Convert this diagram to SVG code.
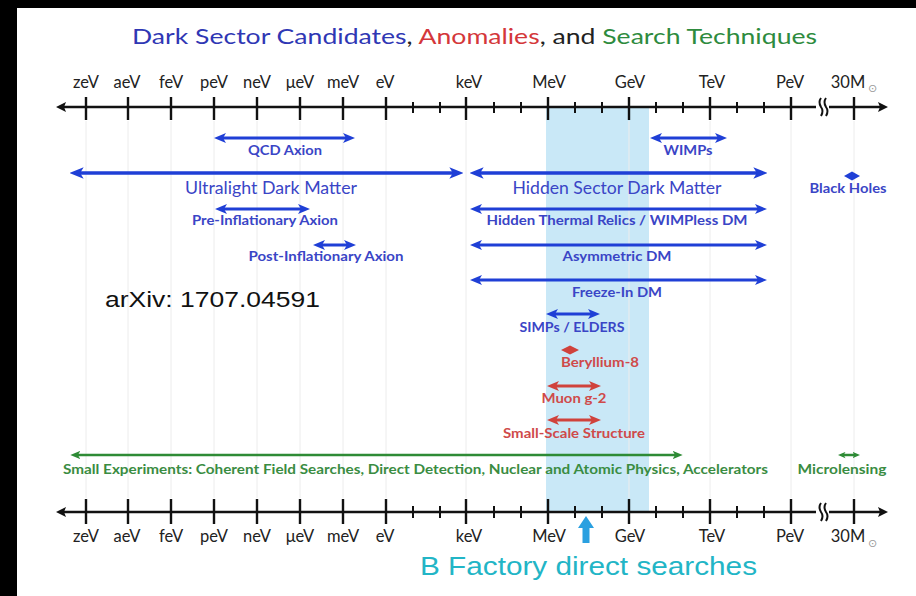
<svg xmlns="http://www.w3.org/2000/svg" width="916" height="596" viewBox="0 0 916 596">
  <defs>
    <style>
      .ax { stroke: #111; stroke-width: 2.5; fill: none; }
      .tk { stroke: #111; stroke-width: 2.4; }
      .tm { stroke: #111; stroke-width: 2; }
      .grid { stroke: #ececec; stroke-width: 1; }
      .axl { font-family: Lato, "Liberation Sans", sans-serif; font-size: 16.5px; fill: #222; text-anchor: middle; }
      .sun { font-family: "DejaVu Sans", sans-serif; font-size: 11px; fill: #999; }
      .lb { font-family: Lato, "Liberation Sans", sans-serif; font-size: 13.5px; font-weight: 700; text-anchor: middle; }
      .lbig { font-family: Lato, "Liberation Sans", sans-serif; font-size: 16.5px; text-anchor: middle; }
      .blue { fill: #3a45c6; }
      .red { fill: #cf4a4a; }
      .green { fill: #3a8c42; }
      .ab { stroke: #1f3fd6; fill: none; marker-start: url(#hb); marker-end: url(#hb); }
      .ar { stroke: #d0423c; fill: none; stroke-width: 3; marker-start: url(#hr); marker-end: url(#hr); }
      .ag { stroke: #2e8b35; fill: none; stroke-width: 2.5; marker-start: url(#hg); marker-end: url(#hg); }
    </style>
    <marker id="hb" viewBox="0 0 12 10" refX="4" refY="5" markerWidth="4" markerHeight="3.4" orient="auto-start-reverse">
      <path d="M0,0 L12,5 L0,10 L3,5 z" fill="#1f3fd6"/>
    </marker>
    <marker id="hr" viewBox="0 0 12 10" refX="4" refY="5" markerWidth="4" markerHeight="3.4" orient="auto-start-reverse">
      <path d="M0,0 L12,5 L0,10 L3,5 z" fill="#d0423c"/>
    </marker>
    <marker id="hg" viewBox="0 0 12 10" refX="4" refY="5" markerWidth="4" markerHeight="3.4" orient="auto-start-reverse">
      <path d="M0,0 L12,5 L0,10 L3,5 z" fill="#2e8b35"/>
    </marker>
    <marker id="hgs" viewBox="0 0 12 10" refX="4" refY="5" markerWidth="3" markerHeight="2.8" orient="auto-start-reverse">
      <path d="M0,0 L12,5 L0,10 L3,5 z" fill="#2e8b35"/>
    </marker>
    <marker id="hk" viewBox="0 0 10 10" refX="3" refY="5" markerWidth="4" markerHeight="4" orient="auto-start-reverse">
      <path d="M0,0 L10,5 L0,10 L2,5 z" fill="#111"/>
    </marker>
  </defs>

  <!-- frame -->
  <rect x="0" y="0" width="916" height="596" fill="#000"/>
  <rect x="17" y="8" width="899" height="588" fill="#fff"/>

  <!-- highlighted MeV-GeV window -->
  <rect x="546" y="107" width="103" height="405" fill="#c9e8f7"/>

  <!-- faint decade gridlines -->
  <g id="gridlines">
    <line class="grid" x1="86" y1="121" x2="86" y2="498"/>
    <line class="grid" x1="128" y1="121" x2="128" y2="498"/>
    <line class="grid" x1="171" y1="121" x2="171" y2="498"/>
    <line class="grid" x1="214" y1="121" x2="214" y2="498"/>
    <line class="grid" x1="257" y1="121" x2="257" y2="498"/>
    <line class="grid" x1="300" y1="121" x2="300" y2="498"/>
    <line class="grid" x1="343" y1="121" x2="343" y2="498"/>
    <line class="grid" x1="386" y1="121" x2="386" y2="498"/>
    <line class="grid" x1="466" y1="121" x2="466" y2="498"/>
    <line class="grid" x1="629" y1="121" x2="629" y2="498"/>
    <line class="grid" x1="710" y1="121" x2="710" y2="498"/>
    <line class="grid" x1="791" y1="121" x2="791" y2="498"/>
    <line class="grid" x1="854" y1="121" x2="854" y2="498"/>
  </g>

  <!-- title -->
  <text id="title" x="132" y="44" textLength="685" lengthAdjust="spacingAndGlyphs" font-family="Lato, 'Liberation Sans', sans-serif" font-size="22"><tspan fill="#2f37b4">Dark Sector Candidates</tspan><tspan fill="#222">, </tspan><tspan fill="#d4373a">Anomalies</tspan><tspan fill="#222">, and </tspan><tspan fill="#2e8b3e">Search Techniques</tspan></text>

  <!-- top energy axis -->
  <g id="axis-top">
    <line class="ax" x1="63" y1="107" x2="881" y2="107" marker-start="url(#hk)" marker-end="url(#hk)"/>
    <path class="tk" d="M86,97V120M128,97V120M171,97V120M214,97V120M257,97V120M300,97V120M343,97V120M386,97V120M466,97V120M548,97V120M629,97V120M710,97V120M791,97V120M854,97V120"/>
    <path class="tm" d="M413,102V113M440,102V113M494,102V113M521,102V113M575,102V113M602,102V113M656,102V113M683,102V113M737,102V113M764,102V113"/>
    <rect x="816" y="104" width="13" height="6" fill="#fff"/>
    <path class="tm" fill="none" d="M821,98 q-3,4 0,9 q3,4 0,9 M826,98 q-3,4 0,9 q3,4 0,9"/>
    <text class="axl" x="86" y="88">zeV</text>
    <text class="axl" x="127" y="88">aeV</text>
    <text class="axl" x="171" y="88">feV</text>
    <text class="axl" x="214" y="88">peV</text>
    <text class="axl" x="257" y="88">neV</text>
    <text class="axl" x="300" y="88">μeV</text>
    <text class="axl" x="343" y="88">meV</text>
    <text class="axl" x="385" y="88">eV</text>
    <text class="axl" x="469" y="88">keV</text>
    <text class="axl" x="549" y="88">MeV</text>
    <text class="axl" x="630" y="88">GeV</text>
    <text class="axl" x="712" y="88">TeV</text>
    <text class="axl" x="790" y="88">PeV</text>
    <text class="axl" x="848" y="88">30M</text>
    <text class="sun" x="868" y="92">⊙</text>
  </g>

  <!-- bottom energy axis -->
  <g id="axis-bottom">
    <line class="ax" x1="63" y1="512" x2="881" y2="512" marker-start="url(#hk)" marker-end="url(#hk)"/>
    <path class="tk" d="M86,499V524M128,499V524M171,499V524M214,499V524M257,499V524M300,499V524M343,499V524M386,499V524M466,499V524M548,499V524M629,499V524M710,499V524M791,499V524M854,499V524"/>
    <path class="tm" d="M413,506V518M440,506V518M494,506V518M521,506V518M575,506V518M602,506V518M656,506V518M683,506V518M737,506V518M764,506V518"/>
    <rect x="816" y="509" width="13" height="6" fill="#fff"/>
    <path class="tm" fill="none" d="M821,503 q-3,4 0,9 q3,4 0,9 M826,503 q-3,4 0,9 q3,4 0,9"/>
    <text class="axl" x="86" y="542">zeV</text>
    <text class="axl" x="127" y="542">aeV</text>
    <text class="axl" x="171" y="542">feV</text>
    <text class="axl" x="214" y="542">peV</text>
    <text class="axl" x="257" y="542">neV</text>
    <text class="axl" x="300" y="542">μeV</text>
    <text class="axl" x="343" y="542">meV</text>
    <text class="axl" x="385" y="542">eV</text>
    <text class="axl" x="469" y="542">keV</text>
    <text class="axl" x="549" y="542">MeV</text>
    <text class="axl" x="630" y="542">GeV</text>
    <text class="axl" x="712" y="542">TeV</text>
    <text class="axl" x="790" y="542">PeV</text>
    <text class="axl" x="848" y="542">30M</text>
    <text class="sun" x="868" y="547">⊙</text>
  </g>

  <!-- mass-range arrows -->
  <g id="connectors">
    <line class="ab" stroke-width="3" x1="222" y1="138" x2="347" y2="138"/>
    <line class="ab" stroke-width="3" x1="658" y1="138" x2="719" y2="138"/>
    <line class="ab" stroke-width="3.5" x1="79" y1="173" x2="454" y2="173"/>
    <line class="ab" stroke-width="3.5" x1="479" y1="173" x2="758" y2="173"/>
    <line class="ab" stroke-width="3" x1="223" y1="209" x2="302" y2="209"/>
    <line class="ab" stroke-width="3" x1="478" y1="209" x2="759" y2="209"/>
    <line class="ab" stroke-width="3" x1="321" y1="245" x2="348" y2="245"/>
    <line class="ab" stroke-width="3" x1="478" y1="245" x2="759" y2="245"/>
    <line class="ab" stroke-width="3" x1="478" y1="280" x2="759" y2="280"/>
    <line class="ab" stroke-width="3" x1="554" y1="314" x2="592" y2="314"/>
    <line class="ar" x1="555" y1="386" x2="593" y2="386"/>
    <line class="ar" x1="555" y1="420" x2="593" y2="420"/>
    <line class="ag" x1="77" y1="455" x2="676" y2="455"/>
    <line stroke="#2e8b35" stroke-width="2.5" x1="843" y1="455" x2="855" y2="455" marker-start="url(#hgs)" marker-end="url(#hgs)"/>
    <path d="M844,176 L852,171.5 L860,176 L852,180.5 z" fill="#1f3fd6"/>
    <path d="M561,350 L570,345.5 L579,350 L570,354.5 z" fill="#d0423c"/>
  </g>

  <!-- candidate labels -->
  <g id="qcd-axion"><text class="lb blue" x="285" y="155" textLength="74" lengthAdjust="spacingAndGlyphs">QCD Axion</text></g>
  <g id="wimps"><text class="lb blue" x="688" y="155" textLength="49" lengthAdjust="spacingAndGlyphs">WIMPs</text></g>
  <g id="ultralight-dm"><text class="lbig blue" x="271" y="194" textLength="172" lengthAdjust="spacingAndGlyphs">Ultralight Dark Matter</text></g>
  <g id="hidden-sector-dm"><text class="lbig blue" x="617" y="194" textLength="209" lengthAdjust="spacingAndGlyphs">Hidden Sector Dark Matter</text></g>
  <g id="black-holes"><text class="lb blue" x="848" y="193" textLength="77" lengthAdjust="spacingAndGlyphs">Black Holes</text></g>
  <g id="pre-inflationary-axion"><text class="lb blue" x="265" y="225" textLength="146" lengthAdjust="spacingAndGlyphs">Pre-Inflationary Axion</text></g>
  <g id="hidden-thermal-relics"><text class="lb blue" x="617" y="225" textLength="261" lengthAdjust="spacingAndGlyphs">Hidden Thermal Relics / WIMPless DM</text></g>
  <g id="post-inflationary-axion"><text class="lb blue" x="326" y="261" textLength="155" lengthAdjust="spacingAndGlyphs">Post-Inflationary Axion</text></g>
  <g id="asymmetric-dm"><text class="lb blue" x="617" y="261" textLength="109" lengthAdjust="spacingAndGlyphs">Asymmetric DM</text></g>
  <g id="freeze-in-dm"><text class="lb blue" x="617" y="297" textLength="90" lengthAdjust="spacingAndGlyphs">Freeze-In DM</text></g>
  <g id="simps-elders"><text class="lb blue" x="572" y="332" textLength="105" lengthAdjust="spacingAndGlyphs">SIMPs / ELDERS</text></g>
  <g id="beryllium-8"><text class="lb red" x="600" y="367" textLength="78" lengthAdjust="spacingAndGlyphs">Beryllium-8</text></g>
  <g id="muon-g-2"><text class="lb red" x="574" y="403" textLength="65" lengthAdjust="spacingAndGlyphs">Muon g-2</text></g>
  <g id="small-scale-structure"><text class="lb red" x="574" y="438" textLength="142" lengthAdjust="spacingAndGlyphs">Small-Scale Structure</text></g>
  <g id="small-experiments"><text class="lb green" x="415.5" y="474" textLength="705" lengthAdjust="spacingAndGlyphs">Small Experiments: Coherent Field Searches, Direct Detection, Nuclear and Atomic Physics, Accelerators</text></g>
  <g id="microlensing"><text class="lb green" x="842" y="474" textLength="89" lengthAdjust="spacingAndGlyphs">Microlensing</text></g>

  <!-- reference note -->
  <text id="arxiv" x="105" y="307" font-family="'Liberation Sans', Arial, sans-serif" font-size="22" fill="#111" textLength="215" lengthAdjust="spacingAndGlyphs">arXiv: 1707.04591</text>

  <!-- B factory marker -->
  <g id="b-factory">
    <path d="M586,516 L594,528 L589.5,528 L589.5,543 L582.5,543 L582.5,528 L578,528 z" fill="#2aa0e0"/>
    <text x="420" y="575" font-family="'Liberation Sans', Arial, sans-serif" font-size="26" fill="#22b5c6" textLength="337" lengthAdjust="spacingAndGlyphs">B Factory direct searches</text>
  </g>
</svg>
